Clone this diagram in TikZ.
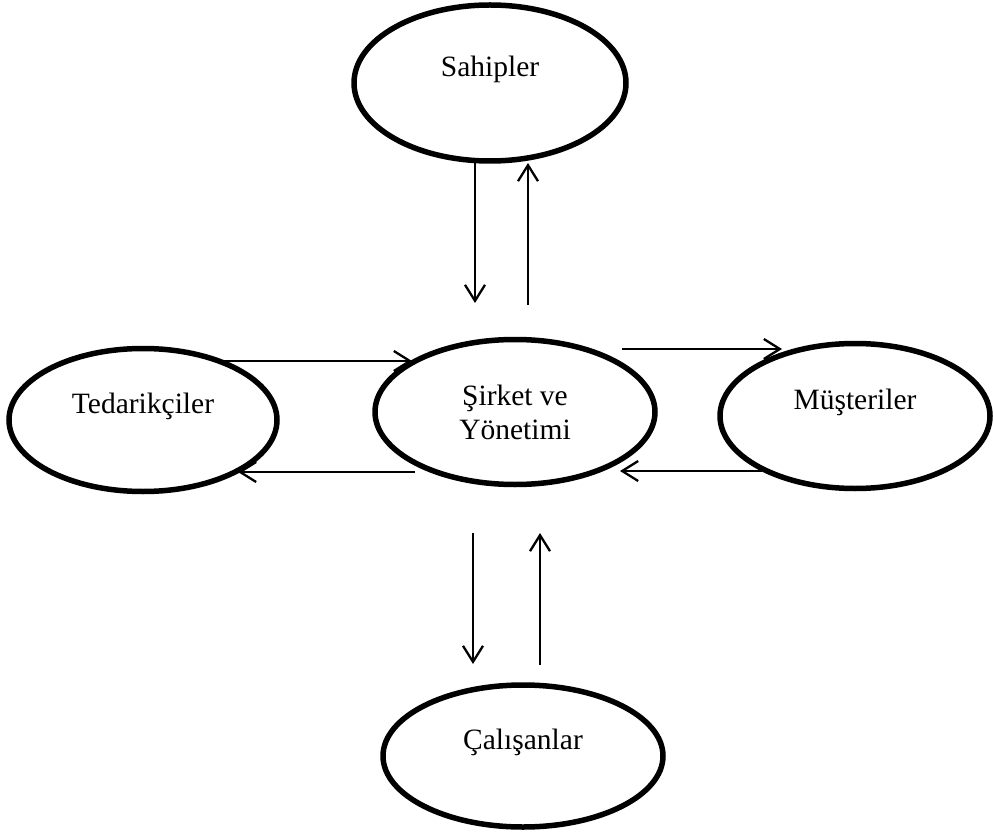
\documentclass[tikz,border=0pt]{standalone}
\usepackage{fontspec}
\setmainfont{Liberation Serif}
\usetikzlibrary{arrows.meta,shapes.geometric}

\begin{document}
\begin{tikzpicture}[
    x=1pt, y=-1pt,
    party/.style={draw, ellipse, line width=5.5pt, inner sep=0pt, align=center, font=\fontsize{29.5}{34}\selectfont},
    flow/.style={line width=2.3pt, -{Straight Barb[length=16pt,width=20pt,line width=2.3pt]}}
]
\useasboundingbox (0,0) rectangle (993,834);

% parties
\node[party, minimum width=272pt, minimum height=156pt] (sahip) at (490,83) {Sahipler\\~};
\node[party, minimum width=268pt, minimum height=143pt] (tedarik) at (143,420) {Tedarikçiler\\~};
\node[party, minimum width=280pt, minimum height=145pt] (sirket) at (515,412) {Şirket ve\\Yönetimi};
\node[party, minimum width=270pt, minimum height=145pt] (musteri) at (855,416) {Müşteriler\\~};
\node[party, minimum width=280pt, minimum height=142pt] (calisan) at (523,756) {Çalışanlar\\~};

% arrow ends
\coordinate (sahipOut) at (475,163);
\coordinate (sahipIn) at (528,163);
\coordinate (sirketTopIn) at (475,303);
\coordinate (sirketTopOut) at (528,305);
\coordinate (tedarikOut) at (222,361);
\coordinate (sirketLeftIn) at (412,361);
\coordinate (sirketLeftOut) at (415,472);
\coordinate (tedarikIn) at (238,472);
\coordinate (sirketRightOut) at (622,349);
\coordinate (musteriIn) at (782,349);
\coordinate (musteriOut) at (762,471);
\coordinate (sirketRightIn) at (620,471);
\coordinate (sirketBotOut) at (473,533);
\coordinate (calisanIn) at (473,664);
\coordinate (calisanOut) at (540,665);
\coordinate (sirketBotIn) at (540,533);

% flows
\draw[flow] (sahipOut) -- (sirketTopIn);
\draw[flow] (sirketTopOut) -- (sahipIn);
\draw[flow] (tedarikOut) -- (sirketLeftIn);
\draw[flow] (sirketLeftOut) -- (tedarikIn);
\draw[flow] (sirketRightOut) -- (musteriIn);
\draw[flow] (musteriOut) -- (sirketRightIn);
\draw[flow] (sirketBotOut) -- (calisanIn);
\draw[flow] (calisanOut) -- (sirketBotIn);
\end{tikzpicture}
\end{document}
